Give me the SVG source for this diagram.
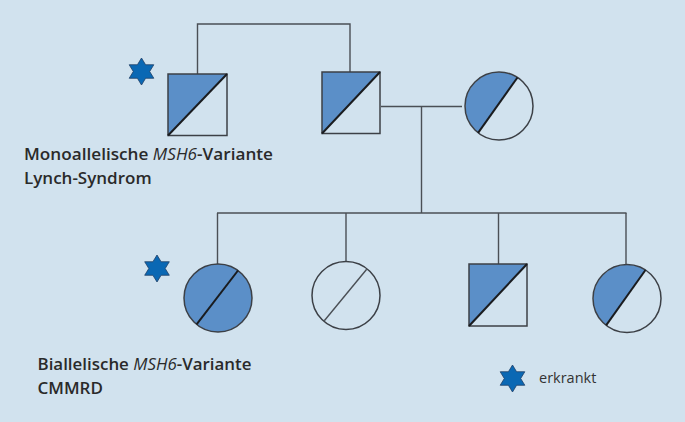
<svg xmlns="http://www.w3.org/2000/svg" width="685" height="422" viewBox="0 0 685 422">
<defs>
<style>
.ln{fill:none;stroke:#4a4f55;stroke-width:1.4}
.sym{fill:none;stroke:#3c4046;stroke-width:1.5}
.fill{fill:#5b8fc8;stroke:none}
.diag{fill:none;stroke:#1a1c1f;stroke-width:2}
.star{fill:#0a68b4;stroke:#1f3f66;stroke-width:0.8}
.lbl{font-family:"Open Sans","Noto Sans",sans-serif;font-weight:600;font-size:17px;fill:#2a2a2a}
.leg{font-family:"Open Sans","Noto Sans",sans-serif;font-size:14.5px;fill:#333}
</style>
<path id="hex" d="M0,-13.5 L4.1,-6.75 L12.3,-6.75 L8.2,0 L12.3,6.75 L4.1,6.75 L0,13.5 L-4.1,6.75 L-12.3,6.75 L-8.2,0 L-12.3,-6.75 L-4.1,-6.75 Z"/>
</defs>
<rect width="685" height="422" fill="#d1e2ee"/>
<g id="connectors">
<polyline class="ln" points="197.5,74 197.5,24 350,24 350,72"/>
<line class="ln" x1="381" y1="106.5" x2="462" y2="106.5"/>
<line class="ln" x1="421.5" y1="106.5" x2="421.5" y2="213"/>
<line class="ln" x1="217" y1="213" x2="626.5" y2="213"/>
<line class="ln" x1="217.5" y1="213" x2="217.5" y2="264"/>
<line class="ln" x1="346" y1="213" x2="346" y2="261.5"/>
<line class="ln" x1="498.5" y1="213" x2="498.5" y2="264"/>
<line class="ln" x1="626" y1="213" x2="626" y2="264.5"/>
</g>
<g id="grandfather">
<path class="fill" d="M168,74 L227,74 L168,135 Z"/>
<rect class="sym" x="168" y="74" width="59" height="61.5"/>
<line class="diag" x1="168" y1="135.5" x2="227" y2="74"/>
<use href="#hex" class="star" x="141.5" y="71.5"/>
</g>
<g id="father">
<path class="fill" d="M322,72 L380,72 L322,133 Z"/>
<rect class="sym" x="322" y="72" width="58" height="61.5"/>
<line class="diag" x1="322" y1="133.5" x2="380" y2="72"/>
</g>
<g id="mother">
<path class="fill" d="M517.5,77.5 A34,34 0 0 0 478.1,132.8 Z"/>
<circle class="sym" cx="499" cy="106" r="34"/>
<line class="diag" x1="517.5" y1="77.5" x2="478.1" y2="132.8"/>
</g>
<g id="child1">
<circle cx="218" cy="298" r="34" fill="#5b8fc8" stroke="#3c4046" stroke-width="1.5"/>
<line class="diag" x1="238" y1="270.5" x2="196.6" y2="324.4"/>
<use href="#hex" class="star" x="157" y="268.5"/>
</g>
<g id="child2">
<circle class="sym" cx="346" cy="295.5" r="34"/>
<line class="ln" x1="366.7" y1="269.3" x2="324.3" y2="320.7" stroke-width="1.6"/>
</g>
<g id="child3">
<path class="fill" d="M469,264 L527,264 L469,326 Z"/>
<rect class="sym" x="469" y="264" width="58" height="62"/>
<line class="diag" x1="469" y1="326" x2="527" y2="264"/>
</g>
<g id="child4">
<path class="fill" d="M645.5,270 A34,34 0 0 0 606.1,325.3 Z"/>
<circle class="sym" cx="627" cy="298.5" r="34"/>
<line class="diag" x1="645.5" y1="270" x2="606.1" y2="325.3"/>
</g>
<g id="label-mono">
<text class="lbl" x="24" y="159.5" textLength="249" lengthAdjust="spacingAndGlyphs">Monoallelische <tspan font-style="italic" font-weight="400">MSH6</tspan>-Variante</text>
<text class="lbl" x="24" y="183.5">Lynch-Syndrom</text>
</g>
<g id="label-bi">
<text class="lbl" x="37.5" y="369.5" textLength="214" lengthAdjust="spacingAndGlyphs">Biallelische <tspan font-style="italic" font-weight="400">MSH6</tspan>-Variante</text>
<text class="lbl" x="37.5" y="393.5">CMMRD</text>
</g>
<g id="legend">
<use href="#hex" class="star" x="512.5" y="378.5"/>
<text class="leg" x="539" y="383">erkrankt</text>
</g>
</svg>
